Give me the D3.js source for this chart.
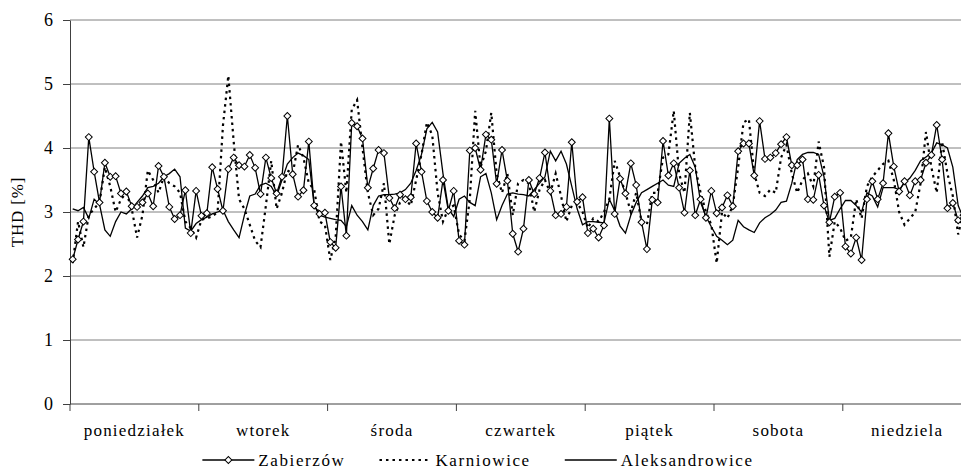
<!DOCTYPE html>
<html>
<head>
<meta charset="utf-8">
<script src="https://cdn.jsdelivr.net/npm/d3@7/dist/d3.min.js"></script>
<style>
  html, body { margin: 0; padding: 0; background: #fff; }
  svg { display: block; }
  svg text { font-family: "Liberation Serif", "Times New Roman", serif; fill: #000; }
</style>
</head>
<body>
<svg id="chart" width="961" height="470"></svg>
<script>
const days = ['poniedziałek', 'wtorek', 'środa', 'czwartek', 'piątek', 'sobota', 'niedziela'];
const yTicks = [0, 1, 2, 3, 4, 5, 6];

// hourly THD values, 24 per day
const zabierzow = [
  2.26, 2.57, 2.85, 4.17, 3.63, 3.15, 3.77, 3.55, 3.56, 3.29, 3.32, 3.09, 3.08, 3.15, 3.29, 3.09, 3.72, 3.55, 3.08, 2.89, 2.95, 3.34, 2.67, 3.33,
  2.94, 2.98, 3.70, 3.36, 3.02, 3.67, 3.85, 3.73, 3.71, 3.89, 3.69, 3.28, 3.85, 3.53, 3.29, 3.55, 4.50, 3.59, 3.24, 3.34, 4.10, 3.10, 2.97, 2.99,
  2.53, 2.44, 3.40, 2.63, 4.39, 4.34, 4.15, 3.38, 3.68, 3.97, 3.92, 3.22, 3.06, 3.27, 3.20, 3.23, 4.07, 3.63, 3.17, 3.00, 2.91, 3.50, 3.02, 3.33,
  2.55, 2.49, 3.96, 4.00, 3.66, 4.21, 4.13, 3.44, 3.97, 3.49, 2.66, 2.38, 2.74, 3.50, 3.28, 3.53, 3.93, 3.33, 2.95, 2.97, 3.08, 4.09, 3.16, 3.23,
  2.67, 2.74, 2.60, 2.79, 4.46, 2.97, 3.52, 3.29, 3.76, 3.42, 2.84, 2.42, 3.19, 3.15, 4.11, 3.57, 3.76, 3.38, 2.99, 3.65, 2.95, 3.20, 2.91, 3.33,
  2.98, 3.07, 3.26, 3.09, 3.95, 4.07, 4.07, 3.57, 4.42, 3.83, 3.85, 3.92, 4.06, 4.17, 3.73, 3.73, 3.82, 3.20, 3.19, 3.58, 3.10, 2.84, 3.24, 3.30,
  2.46, 2.35, 2.60, 2.25, 3.20, 3.48, 3.20, 3.45, 4.23, 3.71, 3.32, 3.48, 3.26, 3.48, 3.50, 3.77, 3.89, 4.36, 3.82, 3.06, 3.14, 2.87, 2.95, 3.05
];

const karniowice = [
  2.20, 2.85, 2.45, 2.95, 3.05, 3.15, 3.70, 3.40, 3.00, 3.20, 3.30, 3.05, 2.60, 2.95, 3.65, 3.50, 3.30, 3.55, 3.45, 3.40, 3.30, 2.85, 2.75, 2.60,
  2.88, 2.90, 2.93, 3.00, 4.35, 5.13, 4.10, 3.20, 3.05, 2.80, 2.55, 2.45, 3.10, 3.80, 3.05, 3.30, 3.65, 3.60, 4.05, 3.85, 3.45, 3.35, 2.85, 2.80,
  2.25, 2.60, 4.10, 3.30, 4.60, 4.75, 4.00, 3.30, 2.95, 3.05, 3.45, 2.50, 2.95, 3.15, 3.20, 3.10, 3.50, 3.90, 4.40, 4.20, 3.30, 2.85, 3.05, 3.10,
  2.65, 2.55, 3.20, 4.58, 3.70, 3.95, 4.55, 3.60, 3.30, 3.60, 2.95, 3.45, 3.50, 3.45, 3.00, 3.35, 3.50, 3.30, 3.60, 3.25, 2.85, 3.10, 3.15, 3.00,
  2.75, 2.90, 2.85, 3.00, 3.20, 3.80, 3.55, 3.30, 3.00, 3.30, 2.85, 2.80, 3.30, 3.30, 3.85, 3.90, 4.58, 3.60, 3.30, 4.55, 3.70, 3.30, 3.00, 2.80,
  2.20, 3.00, 2.90, 3.10, 3.70, 4.40, 4.45, 3.60, 3.30, 3.25, 3.35, 3.30, 3.85, 4.05, 3.60, 3.30, 3.50, 3.60, 3.40, 4.10, 3.70, 2.30, 2.85, 2.75,
  2.55, 2.60, 3.20, 2.90, 3.40, 3.55, 3.65, 3.75, 3.80, 3.50, 3.00, 2.80, 2.90, 3.00, 3.45, 4.25, 3.70, 3.30, 4.10, 3.60, 3.25, 2.65, 3.00, 3.00
];

const aleksandrowice = [
  3.05, 3.02, 3.07, 2.90, 3.20, 3.12, 2.72, 2.62, 2.85, 3.00, 2.97, 3.05, 3.15, 3.25, 3.38, 3.40, 3.45, 3.55, 3.60, 3.67, 3.55, 2.75, 2.70, 2.82,
  2.88, 2.92, 2.97, 3.00, 3.03, 2.85, 2.72, 2.60, 2.95, 3.25, 3.28, 3.42, 3.45, 3.40, 3.25, 3.50, 3.75, 3.85, 3.92, 3.88, 3.82, 3.10, 2.95, 2.92,
  2.90, 2.88, 2.87, 2.77, 3.10, 2.95, 2.85, 2.72, 3.10, 3.25, 3.27, 3.27, 3.28, 3.30, 3.35, 3.45, 3.65, 3.90, 4.30, 4.40, 4.25, 3.60, 3.05, 2.93,
  3.20, 3.25, 3.15, 3.10, 3.55, 3.60, 3.30, 2.88, 3.10, 3.28, 3.30, 3.28, 3.27, 3.25, 3.35, 3.45, 3.55, 3.95, 3.80, 3.95, 3.75, 3.40, 3.05, 2.80,
  2.85, 2.85, 2.84, 2.83, 3.20, 3.02, 2.78, 2.67, 2.95, 3.15, 3.30, 3.35, 3.40, 3.45, 3.50, 3.42, 3.40, 3.76, 3.84, 3.90, 3.70, 3.15, 2.93, 2.77,
  2.62, 2.56, 2.49, 2.56, 2.87, 2.77, 2.72, 2.68, 2.83, 2.91, 2.96, 3.03, 3.15, 3.17, 3.45, 3.82, 3.90, 3.93, 3.93, 3.90, 3.55, 2.87, 2.90, 3.05,
  3.18, 3.18, 3.10, 3.00, 3.30, 3.25, 3.08, 3.38, 3.38, 3.38, 3.35, 3.45, 3.53, 3.65, 3.80, 3.86, 3.92, 4.08, 4.05, 4.00, 3.70, 3.10, 2.90, 2.90
];

const seriesNames = ['Zabierzów', 'Karniowice', 'Aleksandrowice'];

const margin = { top: 20, left: 70 };
const plotRight = 971.6;   // plot runs slightly past the picture edge
const plotBottom = 404;
const serif = '"Liberation Serif", "Times New Roman", serif';

const svg = d3.select('#chart');
svg.append('rect').attr('width', 961).attr('height', 470).attr('fill', '#fff');

const hours = d3.range(zabierzow.length);

const x = d3.scaleBand()
    .domain(hours)
    .range([margin.left, plotRight]);

const xDay = d3.scaleBand()
    .domain(days)
    .range([margin.left, plotRight]);

const y = d3.scaleLinear()
    .domain([0, 6])
    .range([plotBottom, margin.top]);

const px = i => x(i) + x.bandwidth() / 2;

// gridlines
svg.append('g')
    .selectAll('line')
    .data(yTicks.filter(d => d > 0))
    .join('line')
    .attr('x1', margin.left)
    .attr('x2', plotRight)
    .attr('y1', d => y(d))
    .attr('y2', d => y(d))
    .attr('stroke', '#808080')
    .attr('stroke-width', 1);

// y axis
const gy = svg.append('g')
    .attr('transform', `translate(${margin.left},0)`)
    .call(d3.axisLeft(y)
        .tickValues(yTicks)
        .tickFormat(d3.format('d'))
        .tickSize(7)
        .tickPadding(10)
        .tickSizeOuter(0));
gy.attr('font-family', serif);
gy.select('.domain').attr('stroke', '#404040');
gy.selectAll('.tick line').attr('stroke', '#404040');
gy.selectAll('.tick text')
    .attr('font-size', 18)
    .attr('fill', '#000');

// x axis: tick marks at day boundaries, labels centred in each day
const dayEdges = days.map(d => xDay(d)).concat([plotRight]);
const gx = svg.append('g')
    .attr('transform', `translate(0,${plotBottom})`);
gx.append('line')
    .attr('x1', margin.left).attr('x2', plotRight)
    .attr('stroke', '#404040');
gx.selectAll('.edge')
    .data(dayEdges)
    .join('line')
    .attr('class', 'edge')
    .attr('x1', d => d).attr('x2', d => d)
    .attr('y1', 0).attr('y2', 7)
    .attr('stroke', '#404040');
gx.selectAll('.day')
    .data(days)
    .join('text')
    .attr('class', 'day')
    .attr('x', d => xDay(d) + xDay.bandwidth() / 2)
    .attr('y', 32)
    .attr('text-anchor', 'middle')
    .attr('font-size', 17)
    .attr('letter-spacing', 1.2)
    .text(d => d);

// y title
svg.append('text')
    .attr('transform', `translate(23,${(margin.top + plotBottom) / 2}) rotate(-90)`)
    .attr('text-anchor', 'middle')
    .attr('font-size', 17)
    .attr('letter-spacing', 0.8)
    .text('THD [%]');

const line = d3.line()
    .x((d, i) => px(i))
    .y(d => y(d));

const styles = [
    { width: 1.3, dash: null },
    { width: 2.2, dash: '2.5,4' },
    { width: 1.3, dash: null }
];

const plot = svg.append('g');

[zabierzow, karniowice, aleksandrowice].forEach((data, k) => {
    plot.append('path')
        .datum(data)
        .attr('fill', 'none')
        .attr('stroke', '#000')
        .attr('stroke-width', styles[k].width)
        .attr('stroke-dasharray', styles[k].dash)
        .attr('stroke-linejoin', 'miter')
        .attr('d', line);
});

const diamond = d3.symbol().type(d3.symbolSquare).size(24);

plot.append('g')
    .selectAll('path')
    .data(zabierzow)
    .join('path')
    .attr('d', diamond)
    .attr('transform', (d, i) => `translate(${px(i)},${y(d)}) rotate(45)`)
    .attr('fill', '#fff')
    .attr('stroke', '#000')
    .attr('stroke-width', 1);

// legend, centred under the chart
const legend = svg.append('g');
let cursor = 0;
seriesNames.forEach((name, k) => {
    const g = legend.append('g');
    g.append('line')
        .attr('x1', 0).attr('x2', 52)
        .attr('stroke', '#000')
        .attr('stroke-width', styles[k].width)
        .attr('stroke-dasharray', styles[k].dash);
    if (k === 0) {
        g.append('path')
            .attr('d', diamond)
            .attr('transform', 'translate(26,0) rotate(45)')
            .attr('fill', '#fff')
            .attr('stroke', '#000');
    }
    const t = g.append('text')
        .attr('x', 56)
        .attr('y', 6)
        .attr('font-size', 17)
        .attr('letter-spacing', 1.6)
        .text(name);
    const w = 56 + t.node().getComputedTextLength();
    g.attr('transform', `translate(${cursor},0)`);
    cursor += w + 34;
});
const total = cursor - 34;
legend.attr('transform', `translate(${478 - total / 2},460)`);
</script>
</body>
</html>
